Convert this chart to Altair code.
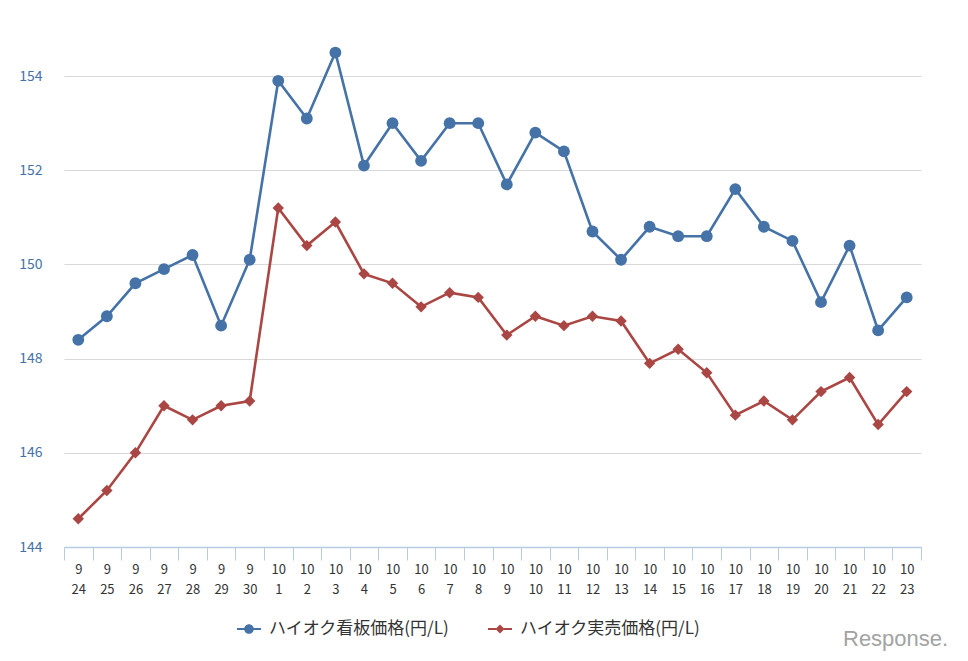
import altair as alt
import pandas as pd

dates = ["9/24", "9/25", "9/26", "9/27", "9/28", "9/29", "9/30",
         "10/1", "10/2", "10/3", "10/4", "10/5", "10/6", "10/7", "10/8",
         "10/9", "10/10", "10/11", "10/12", "10/13", "10/14", "10/15",
         "10/16", "10/17", "10/18", "10/19", "10/20", "10/21", "10/22", "10/23"]

board_price = [148.4, 148.9, 149.6, 149.9, 150.2, 148.7, 150.1,
               153.9, 153.1, 154.5, 152.1, 153.0, 152.2, 153.0, 153.0,
               151.7, 152.8, 152.4, 150.7, 150.1, 150.8, 150.6,
               150.6, 151.6, 150.8, 150.5, 149.2, 150.4, 148.6, 149.3]

actual_price = [144.6, 145.2, 146.0, 147.0, 146.7, 147.0, 147.1,
                151.2, 150.4, 150.9, 149.8, 149.6, 149.1, 149.4, 149.3,
                148.5, 148.9, 148.7, 148.9, 148.8, 147.9, 148.2,
                147.7, 146.8, 147.1, 146.7, 147.3, 147.6, 146.6, 147.3]

series_names = ["ハイオク看板価格(円/L)", "ハイオク実売価格(円/L)"]
series_colors = ["#4572a7", "#aa4643"]
y_ticks = [144, 146, 148, 150, 152, 154]

rows = []
for name, vals in zip(series_names, [board_price, actual_price]):
    for d, v in zip(dates, vals):
        rows.append({"date": d, "series": name, "value": v})
df = pd.DataFrame(rows)

FONT = "Noto Sans CJK JP"

circle_line = ("M-1,-0.09L-0.36,-0.09L-0.36,0.09L-1,0.09Z "
               "M0.36,-0.09L1,-0.09L1,0.09L0.36,0.09Z "
               "M0.4,0A0.4,0.4,0,1,1,-0.4,0A0.4,0.4,0,1,1,0.4,0Z")
diamond_line = ("M-1,-0.09L-0.34,-0.09L-0.34,0.09L-1,0.09Z "
                "M0.34,-0.09L1,-0.09L1,0.09L0.34,0.09Z "
                "M0,-0.38L0.38,0L0,0.38L-0.38,0Z")

x_enc = alt.X(
    "date:N",
    sort=dates,
    scale=alt.Scale(type="band", paddingInner=0, paddingOuter=0),
    axis=alt.Axis(
        title=None, labelAngle=0, labelExpr="split(datum.label, '/')",
        labelLineHeight=20, labelBaseline="top", labelFontSize=13,
        labelColor="#333333", labelFont=FONT, labelPadding=3,
        tickBand="extent", tickSize=13, tickColor="#b7cbe3",
        domainColor="#b7cbe3", domainWidth=1.5, grid=False, zindex=1,
    ),
)
y_enc = alt.Y(
    "value:Q",
    scale=alt.Scale(domain=[144, 155], nice=False, zero=False),
    axis=alt.Axis(
        title=None, values=y_ticks, grid=True, gridColor="#d9d9d9",
        domain=False, ticks=False, labelColor="#4572a7", labelFontSize=14,
        labelFont=FONT, labelPadding=22,
    ),
)
color_scale = alt.Scale(domain=series_names, range=series_colors)

legend = alt.Legend(
    title=None, orient="none", legendX=173, legendY=588,
    direction="horizontal", symbolSize=576, symbolStrokeWidth=0,
    labelFontSize=17, labelFont=FONT, labelColor="#333333",
    labelOffset=8, columnPadding=38, padding=0, labelLimit=0,
)
color_enc = alt.Color("series:N", scale=color_scale, sort=series_names,
                      legend=legend)

base = alt.Chart(df)

lines = base.mark_line(strokeWidth=2.6).encode(
    x=x_enc, y=y_enc, color=color_enc, detail="series:N",
)

pts_board = base.transform_filter(
    alt.datum.series == series_names[0]
).mark_point(filled=True, opacity=1, strokeWidth=0, shape="circle", size=140).encode(
    x=x_enc, y=y_enc, color=color_enc,
)

pts_actual = base.transform_filter(
    alt.datum.series == series_names[1]
).mark_point(filled=True, opacity=1, strokeWidth=0, shape="diamond", size=130).encode(
    x=x_enc, y=y_enc, color=color_enc,
)

legend_layer = base.transform_filter("false").mark_point(
    filled=True, opacity=1, strokeWidth=0
).encode(
    x=x_enc, y=y_enc, color=color_enc,
    shape=alt.Shape("series:N", sort=series_names,
                    scale=alt.Scale(domain=series_names,
                                    range=[circle_line, diamond_line]),
                    legend=legend),
)

logo = alt.Chart(pd.DataFrame({"t": ["Response."]})).mark_text(
    font="Liberation Sans", fontSize=22, color="#a3a3a3",
    align="left", baseline="middle",
).encode(x=alt.value(779), y=alt.value(610), text="t:N")

chart = alt.layer(lines, pts_board, pts_actual, legend_layer, logo).properties(
    width=857, height=518,
    autosize=alt.AutoSizeParams(type="none"),
    padding={"left": 56, "top": 21, "right": 39, "bottom": 106},
).configure_view(stroke=None)

chart.save("out.html", embed_options={"renderer": "svg", "actions": False})
